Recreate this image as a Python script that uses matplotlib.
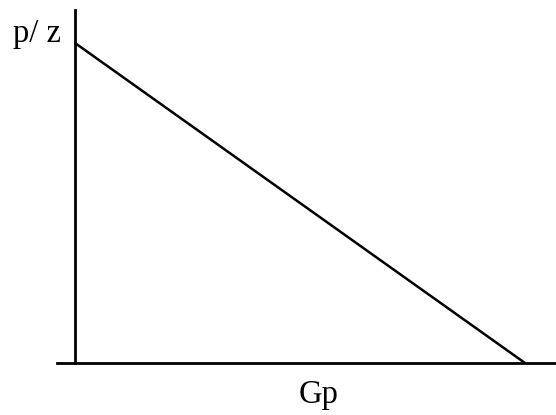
import matplotlib
matplotlib.use("Agg")
import matplotlib.pyplot as plt

# Straight-line relationship: p/z falls linearly with cumulative production Gp
gp = [0.0, 1.0]
pz = [1.0, 0.0]

W, H = 556, 415
fig = plt.figure(figsize=(W / 100, H / 100), dpi=100)

# axes spans the drawn axis lines (pixel bounds of the frame)
left_px, right_px, top_px, bottom_px = 57, 556, 10, 363
ax = fig.add_axes([left_px / W, 1 - bottom_px / H,
                   (right_px - left_px) / W, (bottom_px - top_px) / H])

# origin at x=75 px, Gp end at x=525 px; p/z intercept at y=43 px
x0_px, x1_px, y1_px = 75, 525, 43
sx = x1_px - x0_px
sy = bottom_px - y1_px
ax.set_xlim((left_px - x0_px) / sx, (right_px - x0_px) / sx)
ax.set_ylim(0, (bottom_px - top_px) / sy)

for s in ax.spines.values():
    s.set_visible(False)
ax.set_xticks([])
ax.set_yticks([])

ax.axhline(0, color="black", lw=2.0, clip_on=False)
ax.axvline(0, color="black", lw=2.0, clip_on=False)
ax.plot(gp, pz, color="black", lw=1.8, solid_capstyle="butt", clip_on=False)

font = dict(family="Liberation Serif", fontsize=23.5, color="black")
fig.text(13 / W, 1 - 42 / H, "p/ z", ha="left", va="baseline", **font)
fig.text(319 / W, 1 - 403 / H, "Gp", ha="center", va="baseline", **font)

fig.savefig("out.png", dpi=100)
